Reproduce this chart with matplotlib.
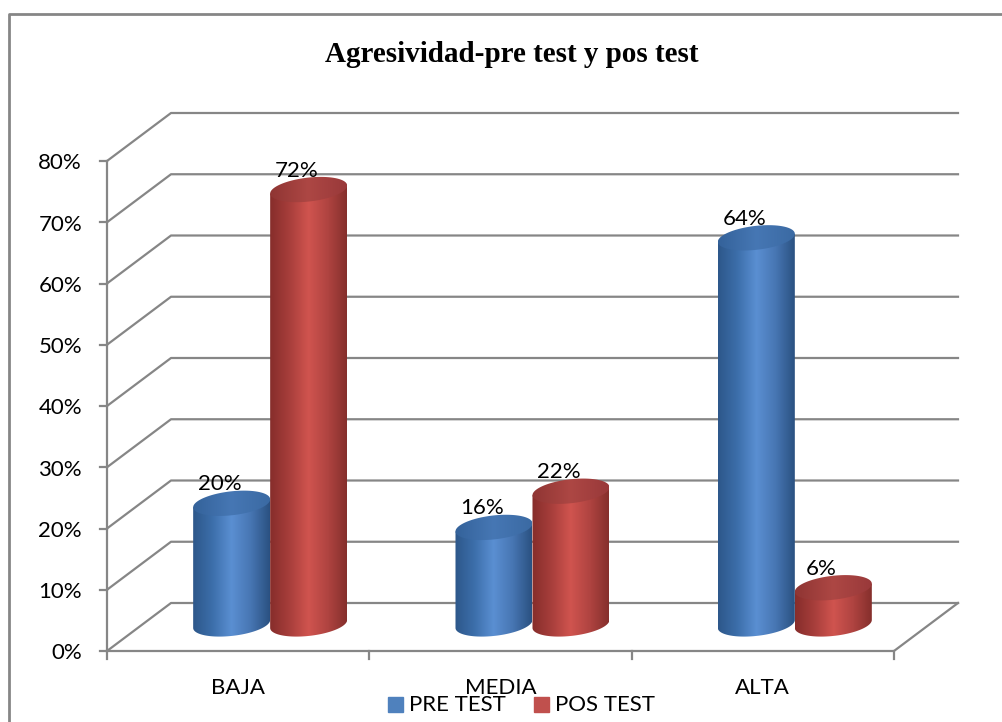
import numpy as np
import matplotlib.pyplot as plt
from matplotlib.colors import LinearSegmentedColormap
from matplotlib.patches import Polygon, Rectangle
from matplotlib.lines import Line2D
from matplotlib.transforms import Affine2D

categories = ['BAJA', 'MEDIA', 'ALTA']
pre_test = [20, 16, 64]
pos_test = [72, 22, 6]
series_names = ['PRE TEST', 'POS TEST']
y_ticks = [0, 10, 20, 30, 40, 50, 60, 70, 80]

W, H = 1002, 722
X0, Y0 = 107, 651          # front corner of the plot, pixels
SX, SY = 262.33, 6.125     # pixels per category / per percent
DX, DY = 64 / SX, 48 / SY  # depth of the 3d box
K = 0.985                  # cylinders sit a bit deeper, slightly smaller
GRID = '#868686'
FONT = 'Lato'
FS = 16

blue_body = LinearSegmentedColormap.from_list('bb', ['#2d578a', '#3c6eaa', '#5a8fd2', '#4776b3', '#2a5181'])
blue_top = LinearSegmentedColormap.from_list('bt', ['#34629a', '#4677b4', '#3b6aa3'])
red_body = LinearSegmentedColormap.from_list('rb', ['#862d2b', '#a73e3b', '#d0544f', '#b04441', '#852f2c'])
red_top = LinearSegmentedColormap.from_list('rt', ['#8f3533', '#ad4744', '#99393a'])

fig = plt.figure(figsize=(W / 100, H / 100), dpi=100)
ax = fig.add_axes([0, 0, 1, 1])
ax.axis('off')

# pixel transform (top-left origin) for frame, title and legend
pix = Affine2D().scale(1 / W, -1 / H).translate(0, 1) + fig.transFigure

fig.add_artist(Line2D([9, 9, W], [H, 14, 14], transform=pix, color=GRID, lw=2))

# walls and floor
for v in y_ticks:
    ax.plot([0, DX, 3 + DX], [v, v + DY, v + DY], color=GRID, lw=1.6, zorder=1)
    ax.plot([-7 / SX, 0], [v, v], color=GRID, lw=1.6, zorder=1)
    ax.text(-25 / SX, v - 0.4, f'{v}%', ha='right', va='center', fontsize=FS, family=FONT)
ax.plot([0, 0], [0, 80], color=GRID, lw=1.6, zorder=1)
ax.plot([0, 3, 3 + DX], [0, 0, DY], color=GRID, lw=1.6, zorder=1)
for i in range(4):
    ax.plot([i, i], [0, -8 / SY], color=GRID, lw=1.6, zorder=1)
for i, c in enumerate(categories):
    ax.text(i + 0.5, -37 / SY, c, ha='center', va='center', fontsize=FS, family=FONT)

a = 38.5 / SX
b = 12 / SY
tilt = 4 / SY
t = np.linspace(0, 2 * np.pi, 200)


def ellipse(cx, cy):
    return np.column_stack([cx + a * np.cos(t), cy + b * np.sin(t) + tilt * np.cos(t)])


def gradient(patch, x0, x1, y0, y1, cmap, z):
    ax.add_patch(patch)
    im = ax.imshow(np.linspace(0, 1, 256).reshape(1, -1), cmap=cmap, aspect='auto',
                   extent=[x0, x1, y0, y1], zorder=z, interpolation='bilinear')
    im.set_clip_path(patch)


def cylinder(cx, v, body, top, z):
    base = DY / 2 + 0.5
    ytop = base + v * K
    low = ellipse(cx, base)
    half = low[(t >= np.pi)]
    pts = np.vstack([half, [[cx + a, ytop + tilt], [cx - a, ytop - tilt]]])
    p = Polygon(pts, closed=True, facecolor='none', edgecolor='none', zorder=z)
    gradient(p, cx - a, cx + a, base - b - tilt, ytop + b + tilt, body, z)
    p2 = Polygon(ellipse(cx, ytop), closed=True, facecolor='none', edgecolor='none', zorder=z + 0.5)
    gradient(p2, cx - a, cx + a, ytop - b - tilt, ytop + b + tilt, top, z + 0.5)
    ax.text(cx - 12 / SX, ytop + 19 / SY, f'{v}%', ha='center', va='center',
            fontsize=FS, family=FONT, zorder=10)


for i in range(len(categories)):
    gc = i + 0.5 + DX / 2
    cylinder(gc - a, pre_test[i], blue_body, blue_top, 3 + i)
    cylinder(gc + a, pos_test[i], red_body, red_top, 3.7 + i)

ax.set_xlim(-X0 / SX, (W - X0) / SX)
ax.set_ylim((Y0 - H) / SY, Y0 / SY)

# title
fig.text(512, 54, 'Agresividad-pre test y pos test', transform=pix, ha='center', va='center',
         fontsize=21, fontweight='bold', family='Liberation Serif')

# legend
for x, name, col in [(388, series_names[0], '#4f81bd'), (534, series_names[1], '#c0504d')]:
    fig.add_artist(Rectangle((x, 697), 15, 15, transform=pix, color=col))
    fig.text(x + 21, 705, name, transform=pix, ha='left', va='center', fontsize=FS, family=FONT)

fig.savefig('out.png', dpi=100)
